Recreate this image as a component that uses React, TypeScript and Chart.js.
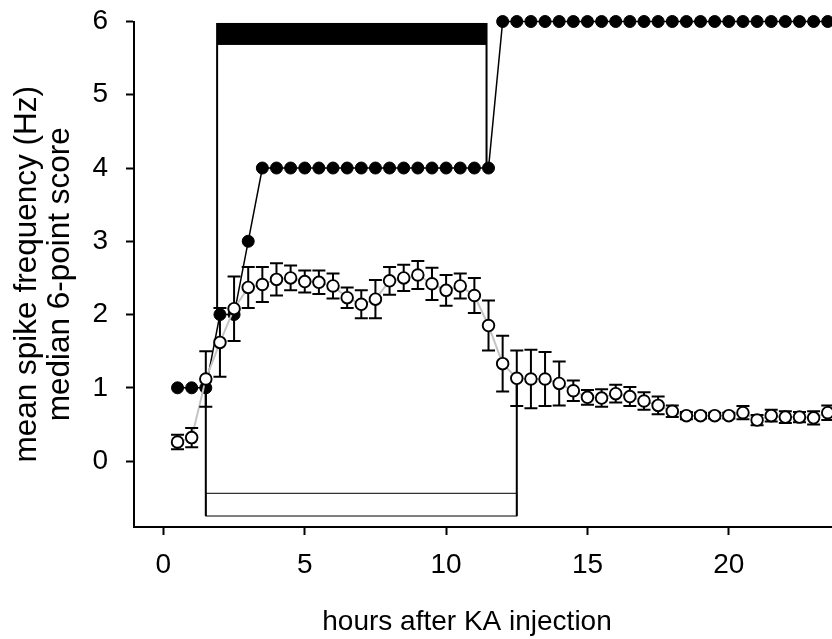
import { useEffect, useRef } from "react";
import { Chart, registerables } from "chart.js";

Chart.register(...registerables);

// Sampling times (hours after kainic acid injection), 30-min bins
const HOURS = [
  0.5, 1, 1.5, 2, 2.5, 3, 3.5, 4, 4.5, 5, 5.5, 6, 6.5, 7, 7.5, 8,
  8.5, 9, 9.5, 10, 10.5, 11, 11.5, 12, 12.5, 13, 13.5, 14, 14.5, 15, 15.5, 16,
  16.5, 17, 17.5, 18, 18.5, 19, 19.5, 20, 20.5, 21, 21.5, 22, 22.5, 23, 23.5,
];

// Median behavioural score on the 6-point scale
const SCORE_MEDIAN = [
  1, 1, 1, 2, 2, 3, 4, 4, 4, 4, 4, 4, 4, 4, 4, 4,
  4, 4, 4, 4, 4, 4, 4, 6, 6, 6, 6, 6, 6, 6, 6, 6,
  6, 6, 6, 6, 6, 6, 6, 6, 6, 6, 6, 6, 6, 6, 6,
];

// Mean spike frequency (Hz) and its SEM
const SPIKE_MEAN = [
  0.26, 0.32, 1.12, 1.62, 2.08, 2.37, 2.41, 2.48, 2.5, 2.45, 2.44, 2.39, 2.23, 2.14, 2.21, 2.46,
  2.5, 2.54, 2.42, 2.33, 2.39, 2.26, 1.85, 1.33, 1.13, 1.12, 1.12, 1.06, 0.96, 0.87, 0.86, 0.92,
  0.88, 0.82, 0.76, 0.68, 0.62, 0.62, 0.62, 0.62, 0.66, 0.56, 0.62, 0.6, 0.6, 0.59, 0.66,
];
const SPIKE_SEM = [
  0.1, 0.13, 0.38, 0.47, 0.44, 0.28, 0.24, 0.22, 0.17, 0.15, 0.16, 0.17, 0.14, 0.19, 0.26, 0.19,
  0.18, 0.19, 0.22, 0.21, 0.17, 0.24, 0.34, 0.38, 0.38, 0.4, 0.37, 0.3, 0.14, 0.1, 0.12, 0.12,
  0.13, 0.12, 0.12, 0.08, 0.05, 0.04, 0.04, 0.04, 0.09, 0.07, 0.08, 0.08, 0.07, 0.09, 0.1,
];

// Period of generalised seizures (black bar at top) and its leg endpoints
const SEIZURE_SPAN = [1.9, 11.43];
const SEIZURE_BAR = [5.68, 5.98];
const SEIZURE_LEG_ENDS = [2, 4];

// Recording window (open bar at bottom) and its leg endpoints
const RECORDING_SPAN = [1.5, 12.5];
const RECORDING_BAR = [-0.75, -0.44];
const RECORDING_LEG_ENDS = [1.12, 1.13];

const X_TICKS = [0, 5, 10, 15, 20];
const Y_TICKS = [0, 1, 2, 3, 4, 5, 6];

const X_TITLE = "hours after KA injection";
const Y_TITLE = ["mean spike frequency (Hz)", "median 6-point score"];

const FONT_FAMILY = '"Liberation Sans", Arial, sans-serif';
const CAP_HALF = 6.5;

const bracketPlugin = {
  id: "periodBrackets",
  beforeDatasetsDraw(chart: any) {
    const { ctx } = chart;
    const x = chart.scales.x;
    const y = chart.scales.y;
    ctx.save();
    ctx.strokeStyle = "#000";
    ctx.fillStyle = "#000";

    // seizure bar with legs down to the score curve
    const sx0 = x.getPixelForValue(SEIZURE_SPAN[0]);
    const sx1 = x.getPixelForValue(SEIZURE_SPAN[1]);
    const sTop = y.getPixelForValue(SEIZURE_BAR[1]);
    const sBot = y.getPixelForValue(SEIZURE_BAR[0]);
    ctx.fillRect(sx0, sTop, sx1 - sx0, sBot - sTop);
    ctx.lineWidth = 2;
    ctx.beginPath();
    ctx.moveTo(sx0, sTop);
    ctx.lineTo(sx0, y.getPixelForValue(SEIZURE_LEG_ENDS[0]));
    ctx.moveTo(sx1, sTop);
    ctx.lineTo(sx1, y.getPixelForValue(SEIZURE_LEG_ENDS[1]));
    ctx.stroke();

    // recording window box with legs up to the spike curve
    const rx0 = x.getPixelForValue(RECORDING_SPAN[0]);
    const rx1 = x.getPixelForValue(RECORDING_SPAN[1]);
    const rTop = y.getPixelForValue(RECORDING_BAR[1]);
    const rBot = y.getPixelForValue(RECORDING_BAR[0]);
    ctx.fillStyle = "#fff";
    ctx.fillRect(rx0, rTop, rx1 - rx0, rBot - rTop);
    ctx.lineWidth = 1;
    ctx.strokeRect(rx0, rTop, rx1 - rx0, rBot - rTop);
    ctx.lineWidth = 2;
    ctx.beginPath();
    ctx.moveTo(rx0, rBot);
    ctx.lineTo(rx0, y.getPixelForValue(RECORDING_LEG_ENDS[0]));
    ctx.moveTo(rx1, rBot);
    ctx.lineTo(rx1, y.getPixelForValue(RECORDING_LEG_ENDS[1]));
    ctx.stroke();
    ctx.restore();
  },
};

const errorBarPlugin = {
  id: "spikeErrorBars",
  beforeDatasetDraw(chart: any, args: any) {
    if (args.index !== 2) return;
    const { ctx } = chart;
    const x = chart.scales.x;
    const y = chart.scales.y;
    ctx.save();
    ctx.strokeStyle = "#000";
    ctx.lineWidth = 2;
    ctx.beginPath();
    HOURS.forEach((h, i) => {
      const px = x.getPixelForValue(h);
      const hi = y.getPixelForValue(SPIKE_MEAN[i] + SPIKE_SEM[i]);
      const lo = y.getPixelForValue(SPIKE_MEAN[i] - SPIKE_SEM[i]);
      ctx.moveTo(px, hi);
      ctx.lineTo(px, lo);
      ctx.moveTo(px - CAP_HALF, hi);
      ctx.lineTo(px + CAP_HALF, hi);
      ctx.moveTo(px - CAP_HALF, lo);
      ctx.lineTo(px + CAP_HALF, lo);
    });
    ctx.stroke();
    ctx.restore();
  },
};

const xTitlePlugin = {
  id: "xAxisTitle",
  afterDraw(chart: any) {
    const { ctx } = chart;
    ctx.save();
    ctx.fillStyle = "#000";
    ctx.font = `28px ${FONT_FAMILY}`;
    ctx.textAlign = "center";
    ctx.textBaseline = "alphabetic";
    ctx.fillText(X_TITLE, 467, 630);
    ctx.restore();
  },
};

export default function App() {
  const canvasRef = useRef<HTMLCanvasElement | null>(null);

  useEffect(() => {
    const canvas = canvasRef.current;
    if (!canvas) return;

    const scorePoints = HOURS.map((h, i) => ({ x: h, y: SCORE_MEDIAN[i] }));
    const spikePoints = HOURS.map((h, i) => ({ x: h, y: SPIKE_MEAN[i] }));

    const tickFont = { family: FONT_FAMILY, size: 28 };

    const chart = new Chart(canvas, {
      type: "scatter",
      data: {
        datasets: [
          {
            label: "median 6-point score",
            data: scorePoints,
            showLine: true,
            borderColor: "#000",
            borderWidth: 1.5,
            pointRadius: 6,
            pointBackgroundColor: "#000",
            pointBorderColor: "#000",
            pointBorderWidth: 1,
            clip: false,
            order: 3,
          },
          {
            label: "spike trend",
            data: spikePoints,
            showLine: true,
            borderColor: "#c4c4c4",
            borderWidth: 2,
            pointRadius: 0,
            clip: false,
            order: 2,
          },
          {
            label: "mean spike frequency (Hz)",
            data: spikePoints,
            showLine: false,
            pointRadius: 5.8,
            pointBackgroundColor: "#fff",
            pointBorderColor: "#000",
            pointBorderWidth: 1.9,
            clip: false,
            order: 1,
          },
        ],
      },
      options: {
        responsive: false,
        animation: false,
        events: [],
        layout: { autoPadding: false, padding: { top: 21.5, left: 0, right: 0, bottom: 0 } },
        plugins: {
          legend: { display: false },
          tooltip: { enabled: false },
        },
        scales: {
          x: {
            type: "linear",
            min: -1.04,
            max: 23.65,
            afterBuildTicks: (s: any) => {
              s.ticks = X_TICKS.map((v) => ({ value: v }));
            },
            afterFit: (s: any) => {
              s.height = 112;
              s.paddingLeft = 0;
              s.paddingRight = 0;
            },
            ticks: {
              font: tickFont,
              color: "#000",
              padding: 13,
              maxRotation: 0,
              autoSkip: false,
            },
            grid: {
              drawOnChartArea: false,
              drawTicks: true,
              tickLength: 8,
              tickWidth: 2,
              tickColor: "#000",
            },
            border: { display: true, color: "#000", width: 2 },
          },
          y: {
            type: "linear",
            min: -0.9,
            max: 6,
            afterBuildTicks: (s: any) => {
              s.ticks = Y_TICKS.map((v) => ({ value: v }));
            },
            afterFit: (s: any) => {
              s.width = 134;
              s.paddingTop = 0;
              s.paddingBottom = 0;
            },
            ticks: {
              font: tickFont,
              color: "#000",
              padding: 18,
              autoSkip: false,
            },
            grid: {
              drawOnChartArea: false,
              drawTicks: true,
              tickLength: 8,
              tickWidth: 2,
              tickColor: "#000",
            },
            border: { display: true, color: "#000", width: 2 },
            title: {
              display: true,
              text: Y_TITLE,
              color: "#000",
              font: { family: FONT_FAMILY, size: 31.5, lineHeight: 1.05 },
              padding: { top: 11, bottom: 0 },
            },
          },
        },
      },
      plugins: [bracketPlugin, errorBarPlugin, xTitlePlugin],
    } as any);

    return () => chart.destroy();
  }, []);

  return (
    <div
      style={{
        position: "fixed",
        left: 0,
        top: 0,
        width: 832,
        height: 639,
        background: "#fff",
        overflow: "hidden",
      }}
    >
      <canvas ref={canvasRef} width={832} height={639} style={{ display: "block" }} />
    </div>
  );
}
